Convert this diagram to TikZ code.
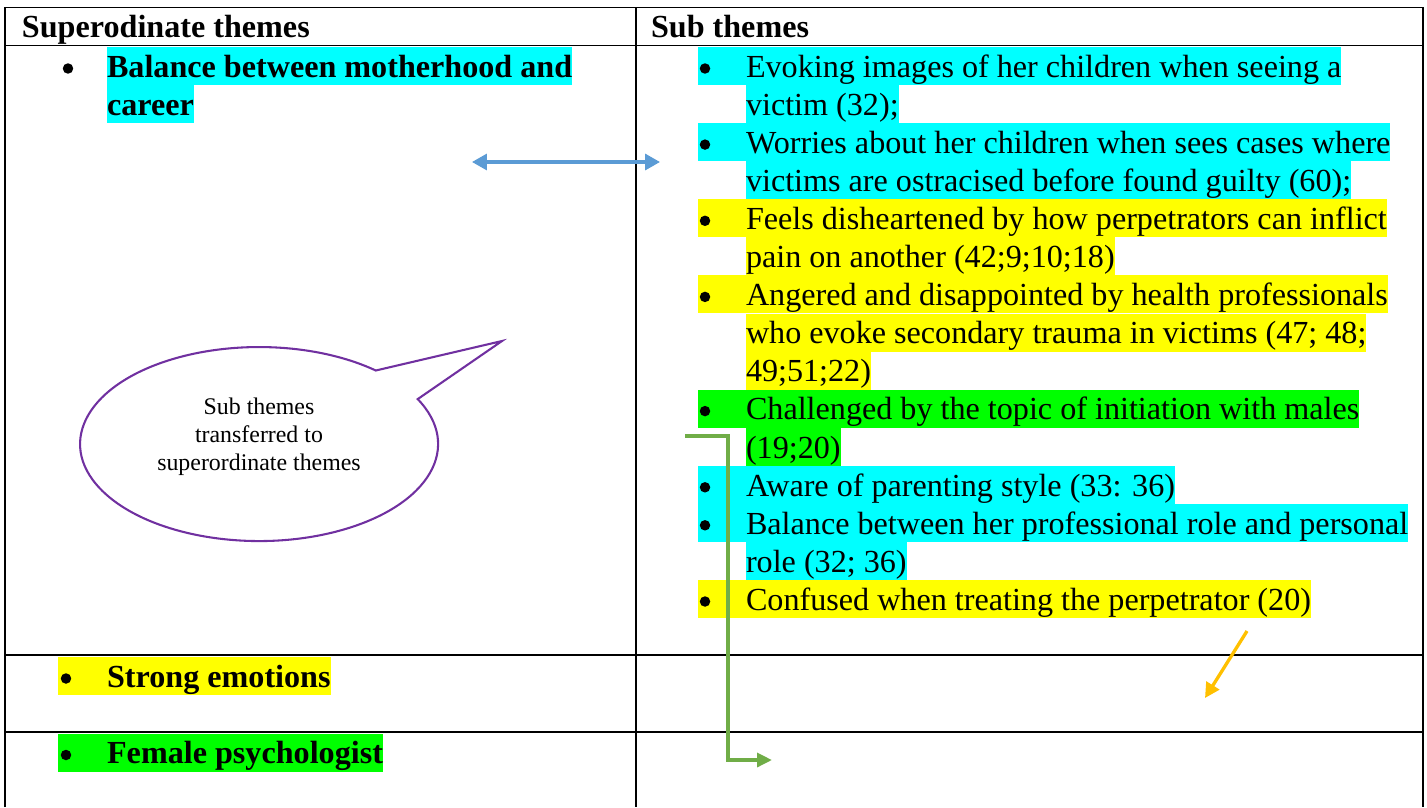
\documentclass[tikz,border=0pt]{standalone}
\usepackage{fontspec}
\setmainfont{Liberation Serif}
\usetikzlibrary{arrows.meta}

\newcommand{\subbul}{\hspace*{17.4pt}}
\newcommand{\supbul}{\hspace*{17.8pt}}

\begin{document}
\begin{tikzpicture}[x=0.36245pt,y=-0.36245pt,
  line/.style={inner sep=0pt,outer sep=0pt,anchor=north west,text height=11pt,text depth=2.8pt,font=\fontsize{11.65}{13.8}\selectfont},
  bold/.style={font=\fontsize{11.65}{13.8}\selectfont\bfseries},
  hl/.style={line,fill=#1},
  rule/.style={line width=0.7pt},
  linkarrow/.style={line width=1.1pt,color=#1,{Triangle[length=5.4pt,width=5.8pt]}-{Triangle[length=5.4pt,width=5.8pt]}}]
  \useasboundingbox (0,0) rectangle (1427,807);
  \definecolor{hlcyan}{HTML}{00FFFF}
  \definecolor{hlyellow}{HTML}{FFFF00}
  \definecolor{hlgreen}{HTML}{00FF00}
  \definecolor{arrblue}{HTML}{5B9BD5}
  \definecolor{arrgreen}{HTML}{70AD47}
  \definecolor{arrorange}{HTML}{FFC000}
  \definecolor{callpurple}{HTML}{7030A0}

  % table
  \draw[rule] (5,807) -- (5,7.5) -- (1423,7.5) -- (1423,807);
  \draw[rule] (636,7.5) -- (636,807);
  \draw[rule] (5,45.5) -- (1423,45.5) (5,655) -- (1423,655) (5,732) -- (1423,732);

  % headers
  \node[line,bold] (hdsup) at (22,7) {Superodinate themes};
  \node[line,bold] (hdsub) at (651,7) {Sub themes};

  % superordinate themes
  \coordinate (supdot) at (61,47);
  \node[hl=hlcyan,bold] (sup1a) at (107,47) {Balance between motherhood and};
  \node[hl=hlcyan,bold] (sup1b) at (107,85.1) {career};
  \node[hl=hlyellow,bold] (sup2) at (58,657) {\supbul Strong emotions};
  \node[hl=hlgreen,bold] (sup3) at (58,733.5) {\supbul Female psychologist};

  % sub themes
  \node[hl=hlcyan] (sub0) at (698,47) {\subbul Evoking images of her children when seeing a};
  \node[hl=hlcyan] (sub1) at (746,85.1) {victim (32);};
  \node[hl=hlcyan] (sub2) at (698,123.1) {\subbul Worries about her children when sees cases where};
  \node[hl=hlcyan] (sub3) at (746,161.2) {victims are ostracised before found guilty (60);};
  \node[hl=hlyellow] (sub4) at (698,199.3) {\subbul Feels disheartened by how perpetrators can inflict};
  \node[hl=hlyellow] (sub5) at (746,237.4) {pain on another (42;9;10;18)};
  \node[hl=hlyellow] (sub6) at (698,275.4) {\subbul Angered and disappointed by health professionals};
  \node[hl=hlyellow] (sub7) at (746,313.5) {who evoke secondary trauma in victims (47; 48;};
  \node[hl=hlyellow] (sub8) at (746,351.6) {49;51;22)};
  \node[hl=hlgreen] (sub9) at (698,389.6) {\subbul Challenged by the topic of initiation with males};
  \node[hl=hlgreen] (sub10) at (746,427.7) {(19;20)};
  \node[hl=hlcyan] (sub11) at (698,465.8) {\subbul Aware of parenting style (33: 36)};
  \node[hl=hlcyan] (sub12) at (698,503.8) {\subbul Balance between her professional role and personal};
  \node[hl=hlcyan] (sub13) at (746,541.9) {role (32; 36)};
  \node[hl=hlyellow] (sub14) at (698,580) {\subbul Confused when treating the perpetrator (20)};

  % bullets
  \foreach \n/\dx in {supdot/7,sup2/8,sup3/8,sub0/7,sub2/7,sub4/7,sub6/7,sub9/7,sub11/7,sub12/7,sub14/7}
    \fill ([shift={(\dx,21.5)}]\n.north west) circle[radius=1.9pt];

  % callout
  \draw[callpurple,line width=0.75pt,line join=miter] (417.7,399.1)
    arc[start angle=27.6,end angle=-310.7,x radius=64.88pt,y radius=35.16pt] -- (502,341) -- cycle;
  \node[align=center,inner sep=0pt,font=\fontsize{8.65}{10.2}\selectfont] (calltext) at (259,437)
    {Sub themes\\transferred to\\superordinate themes};

  % arrows
  \coordinate (linkl) at (472,162);
  \coordinate (linkr) at (660,162);
  \draw[linkarrow=arrblue] (linkl) -- (linkr);
  \coordinate (movefrom) at (685,436);
  \coordinate (moveto) at (772,760);
  \draw[arrgreen,line width=1.3pt,-{Triangle[length=5.4pt,width=5pt]}] (movefrom) -- ++(43,0) |- (moveto);
  \coordinate (emofrom) at (1247,631);
  \coordinate (emoto) at (1205,698);
  \draw[arrorange,line width=1.2pt,-{Triangle[length=5.4pt,width=5.4pt]}] (emofrom) -- (emoto);
\end{tikzpicture}
\end{document}
